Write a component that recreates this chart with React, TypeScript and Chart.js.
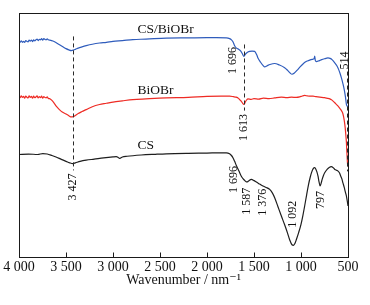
import React, { useEffect, useRef } from "react";
import { Chart, registerables } from "chart.js";

Chart.register(...registerables);

// ---- data (wavenumber, transmittance in arbitrary units with offsets) ----
const blueWn = [4000, 3988, 3976, 3964, 3952, 3940, 3928, 3916, 3904, 3892, 3880, 3868, 3856, 3844, 3832, 3820, 3808, 3796, 3784, 3772, 3760, 3748, 3736, 3724, 3712, 3700, 3688, 3675, 3640, 3600, 3560, 3534, 3500, 3470, 3444, 3420, 3400, 3370, 3330, 3285, 3220, 3143, 3070, 3000, 2900, 2789, 2650, 2433, 2200, 2000, 1900, 1794, 1760, 1740, 1724, 1706, 1690, 1670, 1645, 1625, 1607, 1590, 1565, 1546, 1520, 1493, 1470, 1458, 1430, 1400, 1387, 1360, 1330, 1280, 1230, 1174, 1140, 1110, 1096, 1070, 1040, 1010, 979, 950, 920, 880, 860, 854, 848, 836, 810, 780, 745, 713, 690, 670, 641, 620, 600, 585, 570, 555, 540, 528, 517, 508, 500];
const blueT = [88.4, 88.0, 88.6, 88.0, 88.4, 88.0, 88.7, 88.4, 88.2, 88.9, 88.5, 88.9, 88.3, 89.0, 88.6, 89.0, 89.3, 88.7, 89.2, 89.0, 89.5, 88.9, 89.5, 89.2, 89.0, 89.4, 89.0, 88.9, 88.5, 87.7, 86.8, 86.2, 85.4, 84.9, 84.6, 84.8, 85.1, 85.6, 86.1, 86.6, 87.2, 87.7, 88.0, 88.4, 88.7, 89.1, 89.3, 89.7, 89.8, 89.9, 89.9, 89.8, 89.5, 89.0, 88.2, 86.6, 85.7, 85.3, 84.6, 83.4, 82.2, 83.2, 84.0, 84.3, 84.4, 84.3, 82.8, 81.6, 79.8, 78.3, 77.9, 78.4, 78.9, 79.3, 78.7, 77.6, 76.4, 75.2, 74.9, 75.4, 76.6, 77.9, 79.1, 80.0, 80.5, 81.0, 81.3, 82.3, 80.6, 80.1, 80.4, 80.9, 81.3, 81.6, 81.4, 80.9, 79.6, 78.5, 76.9, 75.3, 73.4, 71.2, 68.6, 65.8, 62.6, 61.8, 61.5];

const redWn = [4000, 3988, 3976, 3964, 3952, 3940, 3928, 3916, 3904, 3892, 3880, 3868, 3856, 3844, 3832, 3820, 3808, 3796, 3784, 3772, 3760, 3748, 3736, 3724, 3712, 3700, 3688, 3675, 3650, 3625, 3604, 3570, 3540, 3500, 3470, 3444, 3420, 3400, 3370, 3330, 3285, 3220, 3143, 3070, 3000, 2900, 2789, 2650, 2433, 2200, 2000, 1850, 1759, 1720, 1690, 1665, 1653, 1635, 1620, 1610, 1600, 1590, 1575, 1565, 1530, 1500, 1450, 1400, 1340, 1280, 1209, 1150, 1100, 1050, 1014, 985, 961, 930, 900, 872, 840, 800, 750, 700, 670, 641, 610, 585, 570, 555, 540, 530, 522, 517, 512, 507, 503, 500];
const redT = [65.9, 65.3, 66.0, 65.4, 65.8, 65.1, 65.9, 65.5, 65.2, 66.0, 65.4, 65.8, 65.1, 65.9, 65.3, 65.6, 66.0, 65.2, 65.7, 65.3, 65.9, 65.1, 65.7, 65.4, 65.2, 65.6, 65.0, 64.9, 64.2, 63.0, 61.8, 60.4, 59.4, 58.6, 57.9, 57.4, 57.6, 58.0, 58.8, 59.6, 60.4, 61.6, 62.5, 63.0, 63.5, 64.0, 64.5, 64.8, 65.2, 65.4, 65.8, 65.9, 65.9, 65.7, 65.5, 65.0, 64.5, 63.8, 63.0, 62.5, 62.9, 63.7, 64.5, 64.8, 64.6, 64.9, 64.7, 65.1, 64.9, 65.2, 65.5, 65.3, 65.5, 65.4, 65.6, 66.0, 66.2, 66.0, 65.9, 65.9, 65.7, 65.5, 65.3, 64.9, 64.3, 63.2, 62.0, 60.8, 60.0, 58.8, 56.0, 53.0, 49.5, 47.0, 43.0, 39.5, 37.5, 37.2];

const blackWn = [4000, 3900, 3800, 3747, 3700, 3650, 3600, 3550, 3500, 3460, 3427, 3400, 3350, 3285, 3200, 3100, 3000, 2965, 2945, 2930, 2915, 2900, 2850, 2700, 2550, 2433, 2200, 2000, 1850, 1794, 1760, 1740, 1724, 1706, 1688, 1660, 1635, 1615, 1600, 1582, 1565, 1550, 1528, 1500, 1475, 1440, 1405, 1370, 1333, 1305, 1280, 1245, 1209, 1175, 1145, 1120, 1096, 1080, 1065, 1049, 1025, 1000, 980, 961, 940, 920, 900, 889, 870, 854, 840, 830, 819, 808, 797, 786, 775, 760, 748, 720, 700, 677, 660, 640, 620, 606, 590, 580, 565, 554, 540, 530, 517, 508, 500];
const blackT = [42.0, 42.2, 42.0, 42.4, 42.2, 41.6, 40.9, 40.0, 39.2, 38.6, 38.3, 38.6, 39.2, 39.7, 40.1, 40.6, 41.0, 41.1, 40.8, 40.4, 40.7, 41.0, 41.3, 41.8, 42.1, 42.3, 42.5, 42.6, 42.7, 42.7, 42.3, 41.6, 40.7, 39.2, 37.5, 35.2, 33.1, 32.0, 31.4, 30.8, 30.9, 31.4, 31.8, 31.3, 30.7, 29.9, 29.1, 28.5, 27.7, 26.3, 24.3, 20.6, 16.8, 13.3, 10.0, 7.0, 5.0, 4.8, 5.5, 7.2, 10.0, 13.4, 17.0, 20.9, 25.5, 29.7, 33.0, 34.5, 36.2, 36.6, 35.8, 34.8, 33.1, 30.8, 29.1, 30.2, 31.8, 33.5, 34.5, 36.0, 36.7, 37.0, 36.7, 35.9, 35.5, 35.2, 34.4, 33.4, 32.0, 30.4, 28.5, 26.9, 25.0, 23.0, 20.9];

const seriesNames = ["CS/BiOBr", "BiOBr", "CS"];
const seriesColors = ["#2f5cbc", "#ee2b24", "#1e1e1e"];
const tickValues = [4000, 3500, 3000, 2500, 2000, 1500, 1000, 500];
const axisTitle = "Wavenumber / nm\u207B\u00B9";

// series name labels
const nameLabelText = ["CS/BiOBr", "BiOBr", "CS"];
const nameLabelWn = [2740, 2740, 2740];
const nameLabelT = [91.8, 66.6, 44.1];

// peak labels (rotated)
const peakText = ["1 696", "514", "1 613", "3 427", "1 696", "1 587", "1 376", "1 092", "797"];
const peakWn = [1730, 535, 1607, 3427, 1715, 1580, 1410, 1090, 788];
const peakT = [80.5, 80.5, 53.1, 28.7, 31.8, 22.8, 22.4, 17.5, 23.4];

// dashed marker lines
const dashWn = [3427, 1610, 514];
const dashFrom = [90.4, 87.1, 76.0];
const dashTo = [35.5, 60.0, 35.1];

const SERIF = '"Liberation Serif", "Times New Roman", "DejaVu Serif", serif';

function fmtTick(v: number): string {
  if (v >= 1000) {
    const th = Math.floor(v / 1000);
    const rest = String(v % 1000).padStart(3, "0");
    return th + " " + rest;
  }
  return String(v);
}

const annotPlugin = {
  id: "annot",
  afterDatasetsDraw(chart: any) {
    const { ctx, chartArea, scales } = chart;
    const x = scales.x;
    const y = scales.y;
    ctx.save();

    // dashed lines
    ctx.strokeStyle = "#2a2a2a";
    ctx.lineWidth = 1;
    ctx.setLineDash([4, 3]);
    for (let i = 0; i < dashWn.length; i++) {
      const px = Math.round(x.getPixelForValue(dashWn[i])) + 0.5;
      ctx.beginPath();
      ctx.moveTo(px, y.getPixelForValue(dashFrom[i]));
      ctx.lineTo(px, y.getPixelForValue(dashTo[i]));
      ctx.stroke();
    }
    ctx.setLineDash([]);

    // frame
    const l = Math.floor(chartArea.left) + 0.5;
    const r = Math.floor(chartArea.right) + 0.5;
    const t = Math.floor(chartArea.top) + 0.5;
    const b = Math.floor(chartArea.bottom) + 0.5;
    ctx.strokeStyle = "#1a1a1a";
    ctx.lineWidth = 1;
    ctx.strokeRect(l, t, r - l, b - t);

    // inward tick marks on bottom axis
    ctx.beginPath();
    for (const v of tickValues) {
      const px = Math.round(x.getPixelForValue(v)) + 0.5;
      ctx.moveTo(px, b);
      ctx.lineTo(px, b - 5);
    }
    ctx.stroke();

    // series name labels
    ctx.fillStyle = "#111";
    ctx.font = "13.5px " + SERIF;
    ctx.textAlign = "left";
    ctx.textBaseline = "alphabetic";
    for (let i = 0; i < nameLabelText.length; i++) {
      ctx.fillText(nameLabelText[i], x.getPixelForValue(nameLabelWn[i]), y.getPixelForValue(nameLabelT[i]));
    }

    // rotated peak labels
    ctx.font = "12px " + SERIF;
    ctx.textAlign = "center";
    ctx.textBaseline = "middle";
    for (let i = 0; i < peakText.length; i++) {
      ctx.save();
      ctx.translate(x.getPixelForValue(peakWn[i]), y.getPixelForValue(peakT[i]));
      ctx.rotate(-Math.PI / 2);
      ctx.fillText(peakText[i], 0, 0);
      ctx.restore();
    }
    ctx.restore();
  },
};

function pts(xs: number[], ys: number[]) {
  return xs.map((v, i) => ({ x: v, y: ys[i] }));
}

export default function App() {
  const ref = useRef<HTMLCanvasElement | null>(null);

  useEffect(() => {
    if (!ref.current) return;
    const chart = new Chart(ref.current, {
      type: "line",
      data: {
        datasets: [
          { label: seriesNames[0], data: pts(blueWn, blueT), borderColor: seriesColors[0] },
          { label: seriesNames[1], data: pts(redWn, redT), borderColor: seriesColors[1] },
          { label: seriesNames[2], data: pts(blackWn, blackT), borderColor: seriesColors[2] },
        ].map((d) => ({
          ...d,
          borderWidth: 1.2,
          pointRadius: 0,
          fill: false,
          cubicInterpolationMode: "monotone" as const,
        })),
      },
      options: {
        animation: false,
        responsive: false,
        layout: { padding: { left: 19, top: 13, right: 22, bottom: 0 } },
        plugins: {
          legend: { display: false },
          tooltip: { enabled: false },
        },
        scales: {
          x: {
            type: "linear",
            min: 500,
            max: 4000,
            reverse: true,
            afterBuildTicks: (s: any) => {
              s.ticks = tickValues.map((v) => ({ value: v }));
            },
            afterFit: (s: any) => {
              s.height = 48;
            },
            grid: { display: false, drawTicks: false },
            border: { display: false },
            ticks: {
              autoSkip: false,
              maxRotation: 0,
              padding: 2,
              color: "#111",
              font: { family: SERIF, size: 14 },
              callback: (v: any) => fmtTick(Number(v)),
            },
            title: {
              display: true,
              text: axisTitle,
              color: "#111",
              font: { family: SERIF, size: 14 },
              padding: { top: 0, bottom: 16.5 },
            },
          },
          y: {
            display: false,
            min: 0,
            max: 100,
          },
        },
      },
      plugins: [annotPlugin],
    });
    return () => chart.destroy();
  }, []);

  return (
    <div style={{ position: "fixed", left: 0, top: 0, width: 370, height: 305, background: "#fff" }}>
      <canvas ref={ref} width={370} height={305} style={{ display: "block" }} />
    </div>
  );
}
